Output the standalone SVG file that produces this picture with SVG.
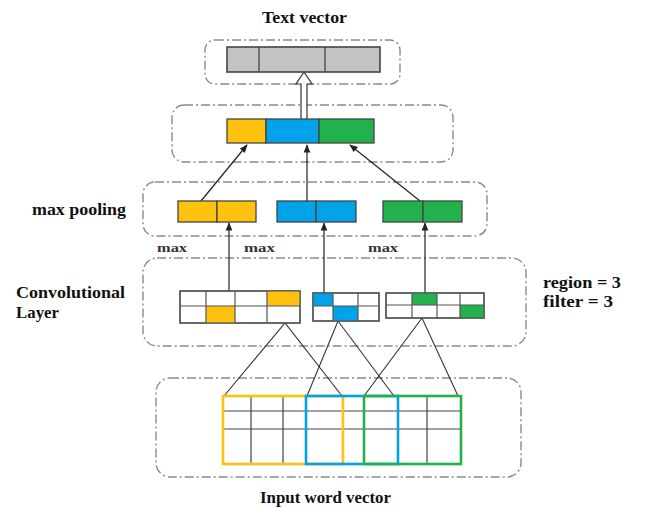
<svg xmlns="http://www.w3.org/2000/svg" width="646" height="508" viewBox="0 0 646 508">
  <defs>
    <marker id="head" viewBox="0 0 10 10" refX="9" refY="5" markerWidth="7" markerHeight="7" orient="auto-start-reverse">
      <path d="M0,1 L10,5 L0,9 z" fill="#222"/>
    </marker>
    <style>
      .frame { fill: none; stroke: #8a8a8a; stroke-width: 1.4; stroke-dasharray: 9 3 2 3; }
      .title { font-family: "Liberation Serif", "Times New Roman", serif; font-weight: bold; font-size: 17px; fill: #111; }
      .small { font-family: "Liberation Serif", "Times New Roman", serif; font-weight: bold; font-size: 12px; fill: #333; }
      .cell { stroke: #444; stroke-width: 1.3; }
      .grid { fill: none; stroke: #555; stroke-width: 1.2; }
      .wire { stroke: #333; stroke-width: 1.1; fill: none; }
      .arrow { stroke: #222; stroke-width: 1.2; fill: none; marker-end: url(#head); }
      .y { fill: #FFC20E; }
      .b { fill: #00A2E8; }
      .g { fill: #22B14C; }
      .w { fill: #fff; }
    </style>
  </defs>

  <!-- labels -->
  <text class="title" x="262" y="23" textLength="85" lengthAdjust="spacingAndGlyphs">Text vector</text>
  <text class="title" x="32" y="215" textLength="94" lengthAdjust="spacingAndGlyphs">max pooling</text>
  <text class="title" x="16" y="298" textLength="109" lengthAdjust="spacingAndGlyphs">Convolutional</text>
  <text class="title" x="16" y="318" textLength="43" lengthAdjust="spacingAndGlyphs">Layer</text>
  <text class="title" x="543" y="288" textLength="78" lengthAdjust="spacingAndGlyphs">region = 3</text>
  <text class="title" x="543" y="307" textLength="70" lengthAdjust="spacingAndGlyphs">filter = 3</text>
  <text class="title" x="260" y="503" textLength="131" lengthAdjust="spacingAndGlyphs">Input word vector</text>
  <text class="small" x="157" y="252" textLength="30" lengthAdjust="spacingAndGlyphs">max</text>
  <text class="small" x="244" y="252" textLength="31" lengthAdjust="spacingAndGlyphs">max</text>
  <text class="small" x="368" y="252" textLength="30" lengthAdjust="spacingAndGlyphs">max</text>

  <!-- dashed layer frames -->
  <rect class="frame" x="205" y="40" width="195" height="44" rx="10"/>
  <rect class="frame" x="172" y="105" width="281" height="57" rx="12"/>
  <rect class="frame" x="143" y="182" width="344" height="54" rx="12"/>
  <rect class="frame" x="143" y="258" width="383" height="88" rx="14"/>
  <rect class="frame" x="156" y="378" width="365" height="99" rx="14"/>

  <!-- connectors -->
  <g id="connectors">
    <!-- pooled features to concatenated vector -->
    <line class="arrow" x1="201" y1="201" x2="247" y2="145"/>
    <line class="arrow" x1="307" y1="201" x2="307" y2="145"/>
    <line class="arrow" x1="420" y1="201" x2="350" y2="145"/>
    <!-- feature maps to pooling -->
    <line class="arrow" x1="229" y1="291" x2="229" y2="223"/>
    <line class="arrow" x1="324" y1="293" x2="324" y2="223"/>
    <line class="arrow" x1="425" y1="293" x2="425" y2="223"/>
    <!-- filter regions to feature maps -->
    <polyline class="wire" points="224,396 285,323 342,396"/>
    <polyline class="wire" points="307,396 338,321 394,396"/>
    <polyline class="wire" points="364,396 422,318 458,396"/>
    <!-- hollow arrow to text vector -->
    <path d="M301,119 V84 H296 L304,72 L312,84 H307 V119" fill="#fff" stroke="#333" stroke-width="1.2"/>
  </g>

  <!-- text vector -->
  <g id="text-vector">
    <rect x="227" y="47" width="153" height="25" fill="#C3C3C3" stroke="#444" stroke-width="1.6"/>
    <line class="cell" x1="259" y1="47" x2="259" y2="72"/>
    <line class="cell" x1="325" y1="47" x2="325" y2="72"/>
  </g>

  <!-- concatenated pooled vector -->
  <g id="concat-vector">
    <rect class="y cell" x="227" y="119" width="39" height="24"/>
    <rect class="b cell" x="266" y="119" width="53" height="24"/>
    <rect class="g cell" x="319" y="119" width="55" height="24"/>
  </g>

  <!-- max pooling outputs -->
  <g id="pool-yellow">
    <rect class="y cell" x="178" y="201" width="39" height="21"/>
    <rect class="y cell" x="217" y="201" width="39" height="21"/>
  </g>
  <g id="pool-blue">
    <rect class="b cell" x="277" y="201" width="39" height="21"/>
    <rect class="b cell" x="316" y="201" width="40" height="21"/>
  </g>
  <g id="pool-green">
    <rect class="g cell" x="383" y="201" width="40" height="21"/>
    <rect class="g cell" x="423" y="201" width="39" height="21"/>
  </g>

  <!-- convolution feature maps -->
  <g id="conv-yellow">
    <rect class="w cell" x="180" y="291" width="120" height="32"/>
    <rect class="y" x="267" y="291" width="33" height="15"/>
    <rect class="y" x="206" y="306" width="29" height="17"/>
    <path class="grid" d="M180,306 H300 M206,291 V323 M235,291 V323 M267,291 V323"/>
    <rect class="grid" x="180" y="291" width="120" height="32"/>
  </g>
  <g id="conv-blue">
    <rect class="w cell" x="313" y="293" width="66" height="28"/>
    <rect class="b" x="313" y="293" width="20" height="13"/>
    <rect class="b" x="333" y="306" width="25" height="15"/>
    <path class="grid" d="M313,306 H379 M333,293 V321 M358,293 V321"/>
    <rect class="grid" x="313" y="293" width="66" height="28"/>
  </g>
  <g id="conv-green">
    <rect class="w cell" x="386" y="293" width="98" height="25"/>
    <rect class="g" x="412" y="293" width="25" height="12"/>
    <rect class="g" x="460" y="305" width="24" height="13"/>
    <path class="grid" d="M386,305 H484 M412,293 V318 M437,293 V318 M460,293 V318"/>
    <rect class="grid" x="386" y="293" width="98" height="25"/>
  </g>

  <!-- input word vector -->
  <g id="input-grid">
    <path d="M223,411 H461 M223,429 H461 M251,396 V464 M283,396 V464 M343,429 V464 M427,396 V464 M223,464 H461 M343,396 H461" stroke="#444" stroke-width="1.2" fill="none"/>
    <rect x="223" y="396" width="120" height="68" fill="none" stroke="#FFC20E" stroke-width="2.6"/>
    <rect x="306" y="396" width="92" height="68" fill="none" stroke="#00A2E8" stroke-width="2.6"/>
    <rect x="364" y="396" width="97" height="68" fill="none" stroke="#22B14C" stroke-width="2.6"/>
  </g>
</svg>
